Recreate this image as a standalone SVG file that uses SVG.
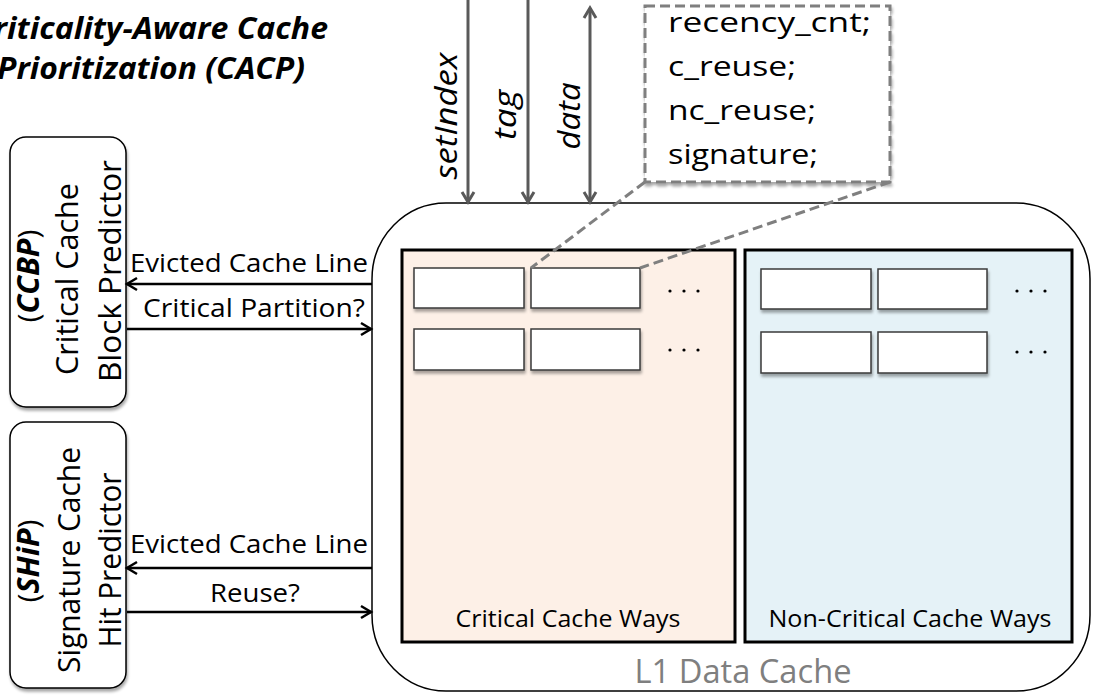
<svg xmlns="http://www.w3.org/2000/svg" width="1094" height="696" viewBox="0 0 1094 696">
<style>
.t{font-family:"Open Sans","Liberation Sans",sans-serif;fill:#000}
.bi{font-weight:bold;font-style:italic}
.it{font-style:italic}
.box{fill:#fff;stroke:#000;stroke-width:1.5}
.cell{fill:#fff;stroke:#3a3a3a;stroke-width:1.5}
.part{stroke:#000;stroke-width:3}
.ga{stroke:#595959;stroke-width:3;fill:none}
.ba{stroke:#000;stroke-width:2.5;fill:none}
.dash{stroke:#7f7f7f;stroke-width:3;stroke-dasharray:10 5;fill:none}
.dots{fill:#000}
</style>
<defs>
<marker id="gh" markerUnits="userSpaceOnUse" markerWidth="16" markerHeight="16" refX="13" refY="8" orient="auto-start-reverse" viewBox="0 0 16 16">
<path d="M3,2 L13,8 L3,14" fill="none" stroke="#595959" stroke-width="3"/>
</marker>
<marker id="bh" markerUnits="userSpaceOnUse" markerWidth="16" markerHeight="16" refX="13" refY="8" orient="auto-start-reverse" viewBox="0 0 16 16">
<path d="M3,2 L13,8 L3,14" fill="none" stroke="#000" stroke-width="2.5"/>
</marker>
<filter id="sh" x="-10%" y="-10%" width="130%" height="140%">
<feGaussianBlur in="SourceAlpha" stdDeviation="1.5"/>
<feOffset dx="1" dy="2.5"/>
<feComponentTransfer><feFuncA type="linear" slope="0.35"/></feComponentTransfer>
<feMerge><feMergeNode/><feMergeNode in="SourceGraphic"/></feMerge>
</filter>
</defs>

<g id="title">
<text class="t bi" x="151" y="39" font-size="30" text-anchor="middle" textLength="354" lengthAdjust="spacingAndGlyphs">Criticality-Aware Cache</text>
<text class="t bi" x="151" y="79" font-size="30" text-anchor="middle" textLength="308" lengthAdjust="spacingAndGlyphs">Prioritization (CACP)</text>
</g>

<g id="l1cache">
<rect x="372" y="203" width="718" height="488" rx="74" ry="76" fill="#fff" stroke="#000" stroke-width="1.5"/>
<text class="t" x="743" y="683" font-size="32" text-anchor="middle" fill="#7f7f7f" style="fill:#7f7f7f" textLength="217" lengthAdjust="spacingAndGlyphs">L1 Data Cache</text>
</g>

<g id="critical-ways">
<rect class="part" x="402" y="250" width="333" height="392" fill="#fdf0e7"/>
<rect class="cell" x="414" y="268" width="110" height="40" filter="url(#sh)"/>
<rect class="cell" x="531" y="268" width="109" height="40" filter="url(#sh)"/>
<rect class="cell" x="414" y="329" width="110" height="41" filter="url(#sh)"/>
<rect class="cell" x="531" y="329" width="109" height="41" filter="url(#sh)"/>
<g class="dots"><circle cx="670" cy="291" r="1.6"/><circle cx="684" cy="291" r="1.6"/><circle cx="698" cy="291" r="1.6"/>
<circle cx="670" cy="350" r="1.6"/><circle cx="684" cy="350" r="1.6"/><circle cx="698" cy="350" r="1.6"/></g>
<text class="t" x="568" y="627" font-size="23" text-anchor="middle" textLength="225" lengthAdjust="spacingAndGlyphs">Critical Cache Ways</text>
</g>

<g id="noncritical-ways">
<rect class="part" x="745" y="250" width="327" height="392" fill="#e5f2f7"/>
<rect class="cell" x="761" y="269" width="110" height="40" filter="url(#sh)"/>
<rect class="cell" x="878" y="269" width="109" height="40" filter="url(#sh)"/>
<rect class="cell" x="761" y="332" width="110" height="41" filter="url(#sh)"/>
<rect class="cell" x="878" y="332" width="109" height="41" filter="url(#sh)"/>
<g class="dots"><circle cx="1017" cy="291" r="1.6"/><circle cx="1031" cy="291" r="1.6"/><circle cx="1045" cy="291" r="1.6"/>
<circle cx="1017" cy="352" r="1.6"/><circle cx="1031" cy="352" r="1.6"/><circle cx="1045" cy="352" r="1.6"/></g>
<text class="t" x="910" y="627" font-size="23" text-anchor="middle" textLength="283" lengthAdjust="spacingAndGlyphs">Non-Critical Cache Ways</text>
</g>

<g id="ccbp">
<rect class="box" x="10" y="137" width="116" height="270" rx="16" filter="url(#sh)"/>
<text class="t" transform="translate(39,276) rotate(-90)" font-size="30" text-anchor="middle" textLength="93" lengthAdjust="spacingAndGlyphs">(<tspan class="bi">CCBP</tspan>)</text>
<text class="t" transform="translate(78,279) rotate(-90)" font-size="31" text-anchor="middle" textLength="192" lengthAdjust="spacingAndGlyphs">Critical Cache</text>
<text class="t" transform="translate(121,271) rotate(-90)" font-size="31" text-anchor="middle" textLength="222" lengthAdjust="spacingAndGlyphs">Block Predictor</text>
</g>

<g id="ship">
<rect class="box" x="10" y="422" width="116" height="266" rx="16" filter="url(#sh)"/>
<text class="t" transform="translate(39,561) rotate(-90)" font-size="30" text-anchor="middle" textLength="83" lengthAdjust="spacingAndGlyphs">(<tspan class="bi">SHiP</tspan>)</text>
<text class="t" transform="translate(80,560) rotate(-90)" font-size="31" text-anchor="middle" textLength="226" lengthAdjust="spacingAndGlyphs">Signature Cache</text>
<text class="t" transform="translate(121,560) rotate(-90)" font-size="31" text-anchor="middle" textLength="175" lengthAdjust="spacingAndGlyphs">Hit Predictor</text>
</g>

<g id="callout">
<rect x="645" y="6" width="245" height="176" fill="#fff" stroke="#7f7f7f" stroke-width="3" stroke-dasharray="10 5" filter="url(#sh)"/>
<text class="t" x="668" y="32" font-size="28" textLength="203" lengthAdjust="spacingAndGlyphs">recency_cnt;</text>
<text class="t" x="668" y="76" font-size="28" textLength="128" lengthAdjust="spacingAndGlyphs">c_reuse;</text>
<text class="t" x="668" y="120" font-size="28" textLength="148" lengthAdjust="spacingAndGlyphs">nc_reuse;</text>
<text class="t" x="668" y="164" font-size="28" textLength="150" lengthAdjust="spacingAndGlyphs">signature;</text>
</g>

<g id="connectors">
<line class="dash" x1="645" y1="182" x2="531" y2="268"/>
<line class="dash" x1="890" y1="182" x2="640" y2="268"/>
<line class="ga" x1="468" y1="0" x2="468" y2="202" marker-end="url(#gh)"/>
<line class="ga" x1="528" y1="0" x2="528" y2="202" marker-end="url(#gh)"/>
<line class="ga" x1="590" y1="8" x2="590" y2="202" marker-start="url(#gh)" marker-end="url(#gh)"/>
<line class="ba" x1="372" y1="284" x2="127" y2="284" marker-end="url(#bh)"/>
<line class="ba" x1="127" y1="329" x2="371" y2="329" marker-end="url(#bh)"/>
<line class="ba" x1="372" y1="568" x2="127" y2="568" marker-end="url(#bh)"/>
<line class="ba" x1="127" y1="612" x2="371" y2="612" marker-end="url(#bh)"/>
</g>

<g id="labels">
<text class="t it" transform="translate(457,116) rotate(-90)" font-size="31" text-anchor="middle" textLength="127" lengthAdjust="spacingAndGlyphs">setIndex</text>
<text class="t it" transform="translate(516,115) rotate(-90)" font-size="31" text-anchor="middle" textLength="50" lengthAdjust="spacingAndGlyphs">tag</text>
<text class="t it" transform="translate(580,116) rotate(-90)" font-size="31" text-anchor="middle" textLength="67" lengthAdjust="spacingAndGlyphs">data</text>
<text class="t" x="130" y="272" font-size="25" textLength="238" lengthAdjust="spacingAndGlyphs">Evicted Cache Line</text>
<text class="t" x="143" y="317" font-size="25" textLength="222" lengthAdjust="spacingAndGlyphs">Critical Partition?</text>
<text class="t" x="130" y="553" font-size="25" textLength="238" lengthAdjust="spacingAndGlyphs">Evicted Cache Line</text>
<text class="t" x="210" y="602" font-size="25" textLength="90" lengthAdjust="spacingAndGlyphs">Reuse?</text>
</g>
</svg>
